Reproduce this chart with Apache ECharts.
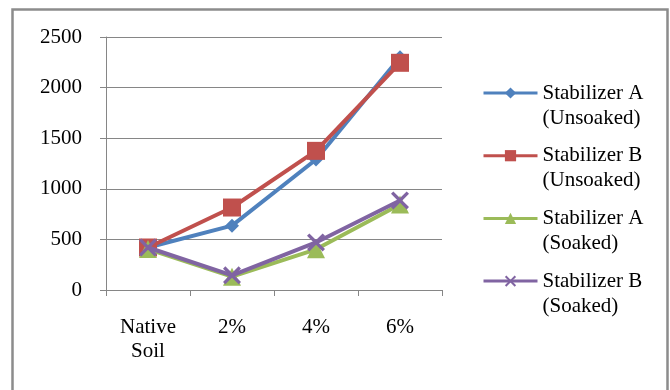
<!DOCTYPE html>
<html>
<head>
<meta charset="utf-8">
<script src="https://cdn.jsdelivr.net/npm/echarts@6/dist/echarts.min.js"></script>
<style>html,body{margin:0;padding:0;background:#fff;}#c{width:670px;height:390px;}</style>
</head>
<body>
<div id="c"></div>
<script>
var categories = ['Native\nSoil', '2%', '4%', '6%'];
var seriesNames = ['Stabilizer A\n(Unsoaked)', 'Stabilizer B\n(Unsoaked)', 'Stabilizer A\n(Soaked)', 'Stabilizer B\n(Soaked)'];
var stabA_unsoaked = [420, 636, 1290, 2300];
var stabB_unsoaked = [420, 815, 1375, 2245];
var stabA_soaked = [405, 132, 402, 845];
var stabB_soaked = [420, 145, 470, 885];
var yTicks = [0, 500, 1000, 1500, 2000, 2500];

var FONT = 'Liberation Serif';
var xSym = 'path://M0,1.3L1.3,0L5,3.7L8.7,0L10,1.3L6.3,5L10,8.7L8.7,10L5,6.3L1.3,10L0,8.7L3.7,5Z';
var colors = ['#4F81BD', '#C0504D', '#9BBB59', '#8064A2'];
var symbols = ['diamond', 'rect', 'triangle', xSym];
var sizes = [14, 18, 18, 18];
var dataSets = [stabA_unsoaked, stabB_unsoaked, stabA_soaked, stabB_soaked];

var chart = echarts.init(document.getElementById('c'));
chart.setOption({
  animation: false,
  backgroundColor: '#fff',
  textStyle: {fontFamily: FONT},
  graphic: [{
    type: 'rect',
    shape: {x: 12.5, y: 9.5, width: 655, height: 400},
    style: {fill: 'none', stroke: '#8c8c8c', lineWidth: 2.5},
    silent: true
  }],
  grid: {left: 106, right: 228, top: 37, bottom: 100},
  legend: {
    orient: 'vertical',
    left: 482, top: 55.5,
    padding: 0,
    itemWidth: 54, itemHeight: 14,
    itemGap: -12.3,
    lineStyle: {width: 3},
    formatter: function (name) { return '\n' + name; },
    textStyle: {fontFamily: FONT, fontSize: 21, color: '#000', lineHeight: 25},
    data: seriesNames
  },
  xAxis: {
    type: 'category',
    data: categories,
    boundaryGap: true,
    axisLine: {lineStyle: {color: '#868686', width: 1}},
    axisTick: {show: true, length: 6, lineStyle: {color: '#868686'}},
    axisLabel: {fontFamily: FONT, fontSize: 21, color: '#000', margin: 25, lineHeight: 24}
  },
  yAxis: {
    type: 'value',
    min: yTicks[0], max: yTicks[yTicks.length - 1], interval: 500,
    axisLine: {show: true, lineStyle: {color: '#868686', width: 1}},
    axisTick: {show: true, length: 6, lineStyle: {color: '#868686'}},
    splitLine: {lineStyle: {color: '#868686', width: 1}},
    axisLabel: {fontFamily: FONT, fontSize: 21, color: '#000', margin: 24,
      formatter: function (v) { return String(v); }}
  },
  series: dataSets.map(function (d, i) {
    return {
      name: seriesNames[i],
      type: 'line',
      data: d,
      symbol: symbols[i],
      symbolSize: sizes[i],
      showAllSymbol: true,
      lineStyle: {color: colors[i], width: 4},
      itemStyle: {color: colors[i], borderColor: colors[i], borderWidth: 0},
      z: 2 + i
    };
  })
});
</script>
</body>
</html>
